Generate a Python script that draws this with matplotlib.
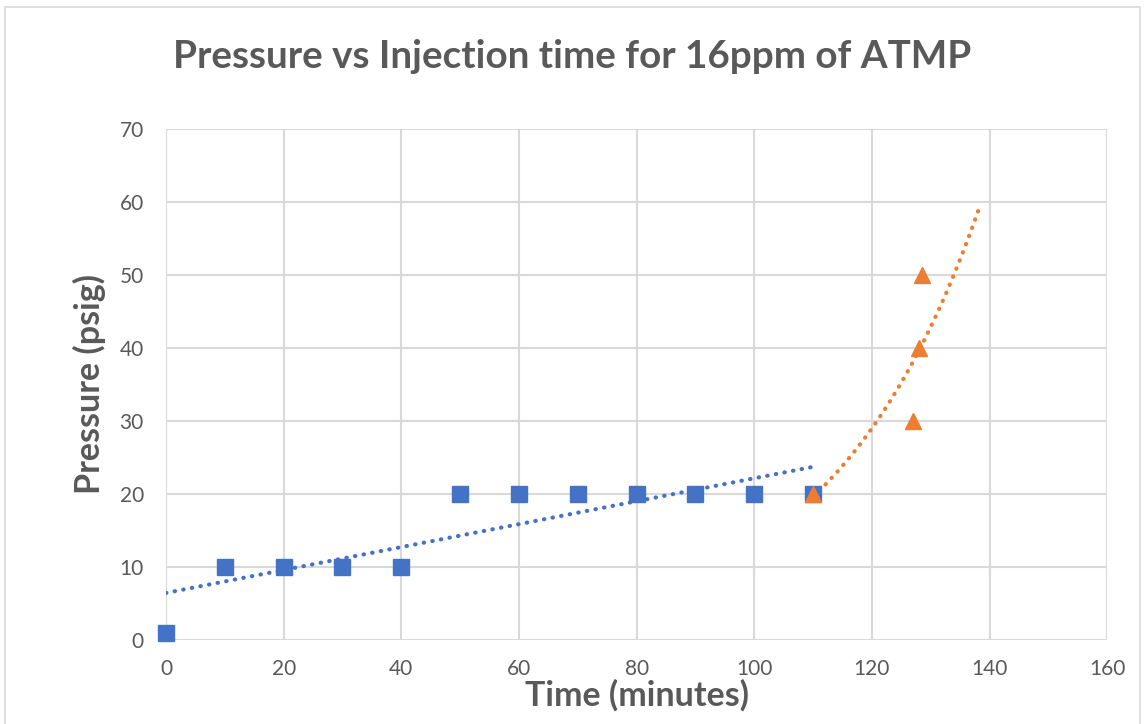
import numpy as np
import matplotlib.pyplot as plt
from matplotlib.patches import Rectangle

# blue series (square markers)
time_a = [0, 10, 20, 30, 40, 50, 60, 70, 80, 90, 100, 110]
pressure_a = [1, 10, 10, 10, 10, 20, 20, 20, 20, 20, 20, 20]

# orange series (triangle markers)
time_b = [110, 127, 128, 128.5]
pressure_b = [20, 30, 40, 50]

x_ticks = [0, 20, 40, 60, 80, 100, 120, 140, 160]
y_ticks = [0, 10, 20, 30, 40, 50, 60, 70]

blue = '#4472C4'
orange = '#ED7D31'
grey = '#595959'
font = 'Lato'

fig = plt.figure(figsize=(11.45, 7.24), dpi=100)
ax = fig.add_axes([0.145, 0.116, 0.822, 0.706])

# chart border
fig.patches.append(Rectangle((0.004, -0.01), 0.992, 1.0, transform=fig.transFigure,
                             fill=False, edgecolor='#d9d9d9', lw=1.2))

# trendlines: linear for blue, exponential for orange (forecast forward 10)
k, c = np.polyfit(time_a, pressure_a, 1)
xa = np.linspace(min(time_a), max(time_a), 100)
ax.plot(xa, k * xa + c, color=blue, lw=3, ls=(0, (0.1, 2.0)),
        dash_capstyle='round', zorder=3)

kb, cb = np.polyfit(time_b, np.log(pressure_b), 1)
xb = np.linspace(min(time_b), max(time_b) + 10, 100)
ax.plot(xb, np.exp(cb + kb * xb), color=orange, lw=3, ls=(0, (0.1, 2.0)),
        dash_capstyle='round', zorder=3)

ax.plot(time_a, pressure_a, 's', color=blue, ms=11, zorder=4, clip_on=False)
ax.plot(time_b, pressure_b, '^', color=orange, ms=12, zorder=5, clip_on=False)

ax.set_xlim(0, 160)
ax.set_ylim(0, 70)
ax.set_xticks(x_ticks)
ax.set_yticks(y_ticks)
ax.grid(True, color='#d9d9d9', lw=1.5)
ax.set_axisbelow(True)
for s in ax.spines.values():
    s.set_visible(False)
ax.tick_params(axis='x', pad=14)
ax.tick_params(axis='y', pad=16)
ax.tick_params(length=0, labelsize=15, labelcolor=grey)
for lab in ax.get_xticklabels() + ax.get_yticklabels():
    lab.set_fontfamily(font)

ax.set_xlabel('Time (minutes)', fontsize=24.5, fontweight='bold', color=grey,
              fontfamily=font, labelpad=0)
ax.set_ylabel('Pressure (psig)', fontsize=24.5, fontweight='bold', color=grey,
              fontfamily=font, labelpad=10)
fig.text(0.5, 0.922, 'Pressure vs Injection time for 16ppm of ATMP', ha='center',
         va='center', fontsize=27.8, fontweight='bold', color=grey, fontfamily=font)

plt.savefig('out.png', dpi=100)
